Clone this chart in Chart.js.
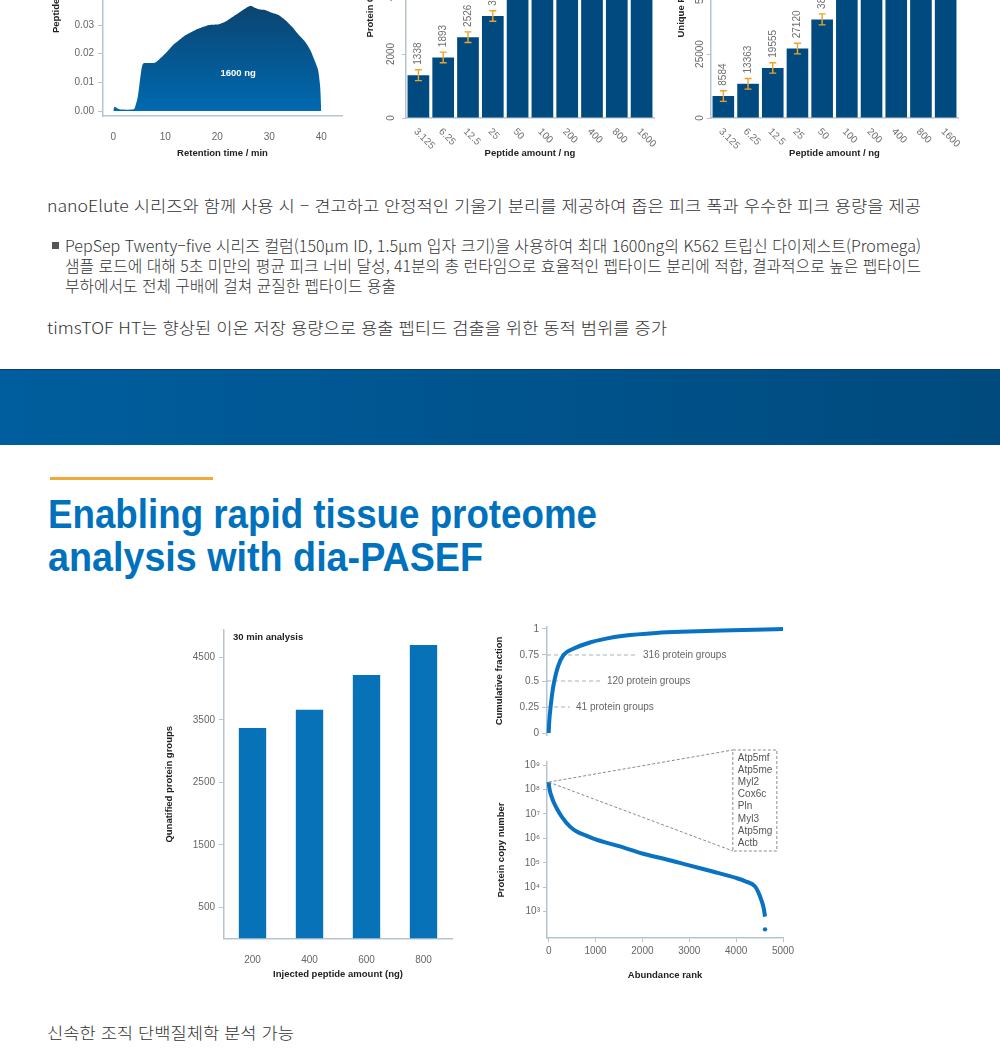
<!DOCTYPE html>
<html lang="ko">
<head>
<meta charset="utf-8">
<title>timsTOF HT</title>
<script src="https://cdn.jsdelivr.net/npm/chart.js@4.4.1/dist/chart.umd.min.js"></script>
<style>
  html, body { margin: 0; padding: 0; background: #fff; }
  body { position: relative; width: 1000px; height: 1048px; overflow: hidden;
         font-family: "Noto Sans CJK KR", sans-serif; color: #333; }
  canvas { position: absolute; }
  .line { position: absolute; white-space: nowrap; font-size: 16px; font-weight: 300; line-height: 20px; transform-origin: 0 50%; }
  .bullet { position: absolute; left: 52px; top: 242px; width: 7px; height: 7px; background: #555; }
  .band { position: absolute; left: 0; top: 369px; width: 1000px; height: 76px;
          background: linear-gradient(90deg, #005e9e, #004a7d); border-top: 1px solid #0b3f66; box-sizing: border-box; }
  .rule { position: absolute; left: 50px; top: 477px; width: 163px; height: 3px; background: #f2a93b; }
  .head { position: absolute; left: 48px; white-space: nowrap; font-family: "Liberation Sans", Arial, sans-serif;
          font-weight: bold; font-size: 40px; line-height: 40px; color: #0071bc; transform-origin: 0 50%; }
</style>
</head>
<body>

<canvas id="profile" width="305" height="195" style="left:40px;top:-30px"></canvas>
<canvas id="groups" width="305" height="205" style="left:355px;top:-40px"></canvas>
<canvas id="peptides" width="300" height="205" style="left:665px;top:-40px"></canvas>

<div class="line" style="left:47px;top:195px" data-w="874">nanoElute 시리즈와 함께 사용 시 – 견고하고 안정적인 기울기 분리를 제공하여 좁은 피크 폭과 우수한 피크 용량을 제공</div>
<div class="bullet"></div>
<div class="line" style="left:65px;top:235px" data-w="856">PepSep Twenty–five 시리즈 컬럼(150μm ID, 1.5μm 입자 크기)을 사용하여 최대 1600ng의 K562 트립신 다이제스트(Promega)</div>
<div class="line" style="left:65px;top:255px" data-w="856">샘플 로드에 대해 5초 미만의 평균 피크 너비 달성, 41분의 총 런타임으로 효율적인 펩타이드 분리에 적합, 결과적으로 높은 펩타이드</div>
<div class="line" style="left:65px;top:275px" data-w="331">부하에서도 전체 구배에 걸쳐 균질한 펩타이드 용출</div>
<div class="line" style="left:47px;top:317px" data-w="620">timsTOF HT는 향상된 이온 저장 용량으로 용출 펩티드 검출을 위한 동적 범위를 증가</div>

<div class="band"></div>
<div class="rule"></div>
<div class="head" style="top:494px" data-w="549">Enabling rapid tissue proteome</div>
<div class="head" style="top:537px" data-w="435">analysis with dia-PASEF</div>

<canvas id="quant" width="300" height="370" style="left:160px;top:620px"></canvas>
<canvas id="cumulative" width="320" height="122" style="left:490px;top:620px"></canvas>
<canvas id="copies" width="320" height="248" style="left:490px;top:742px"></canvas>

<div class="line" style="left:47px;top:1022px" data-w="247">신속한 조직 단백질체학 분석 가능</div>

<script>
// ---- data ----
// peptide elution profile, 1600 ng
const rtMin = [0, 0.3, 0.8, 1.5, 3.7, 4.1, 4.7, 5.3, 5.75, 7.9, 8.8, 10.1, 11.4, 12.5, 13.9, 15.8, 18.4, 20.3, 21.6,
  23.5, 25.4, 26.4, 27.0, 28.0, 29.3, 30.5, 31.8, 33.1, 34.4, 35.7, 36.9, 37.9, 38.7, 39.4, 39.8, 40.0];
const rtIntensity = [0.0008, 0.0015, 0.0009, 0.0005, 0.0005, 0.001, 0.005, 0.0133, 0.0166, 0.0168, 0.018, 0.0202,
  0.0229, 0.0245, 0.0265, 0.0283, 0.030, 0.0303, 0.0312, 0.0335, 0.0358, 0.0367, 0.0362, 0.0355, 0.0352, 0.0343,
  0.0335, 0.0317, 0.0294, 0.0265, 0.0242, 0.0213, 0.0178, 0.0143, 0.0085, 0.0003];
const rtTicks = [0, 10, 20, 30, 40];
const intensityTicks = [0, 0.01, 0.02, 0.03, 0.04];

// load series
const peptideAmounts = ['3.125', '6.25', '12.5', '25', '50', '100', '200', '400', '800', '1600'];
const proteinGroups = [1338, 1893, 2526, 3187, 3980, 4420, 4760, 5010, 5190, 5300];
const proteinGroupsErr = [170, 165, 165, 165, 170, 170, 170, 170, 170, 170];
const groupTicks = [0, 2000, 4000];
const uniquePeptides = [8584, 13363, 19555, 27120, 38518, 48900, 55300, 59800, 62400, 64100];
const uniquePeptidesErr = [2080, 2090, 2030, 2080, 2150, 2100, 2100, 2100, 2100, 2100];
const peptideTicks = [0, 25000, 50000];

// tissue, 30 min
const injectedAmounts = ['200', '400', '600', '800'];
const quantifiedGroups = [3368, 3661, 4216, 4696];
const quantTicks = [500, 1500, 2500, 3500, 4500];

const cumRank = [0, 8, 20, 41, 75, 120, 200, 316, 525, 880, 1200, 1600, 2300, 3000, 3700, 4400, 5000];
const cumFraction = [0, 0.08, 0.16, 0.25, 0.38, 0.5, 0.64, 0.75, 0.81, 0.87, 0.905, 0.935, 0.962, 0.975, 0.985, 0.993, 1.0];
const fractionTicks = [0, 0.25, 0.5, 0.75, 1];
const fractionMarks = [0.75, 0.5, 0.25];
const fractionLabels = ['316 protein groups', '120 protein groups', '41 protein groups'];

const copyRank = [0, 10, 30, 64, 100, 170, 277, 455, 597, 800, 1000, 1500, 2000, 2500, 3000, 3500, 4000, 4200,
  4400, 4467, 4538, 4588, 4616];
const copyNumber = [2.0e8, 1.3e8, 8e7, 5e7, 3.2e7, 1.7e7, 7.8e6, 3e6, 1.9e6, 1.3e6, 9e5, 4.8e5, 2.4e5, 1.4e5, 7.8e4,
  4.4e4, 2.4e4, 1.75e4, 1.1e4, 6.6e3, 3e3, 1.4e3, 630];
const lastRank = [4616];
const lastCopy = [190];
const copyExponents = [3, 4, 5, 6, 7, 8, 9];
const rankTicks = [0, 1000, 2000, 3000, 4000, 5000];
const topProteins = ['Atp5mf', 'Atp5me', 'Myl2', 'Cox6c', 'Pln', 'Myl3', 'Atp5mg', 'Actb'];

// ---- look ----
const FONT = '"Liberation Sans", Arial, sans-serif';
Chart.defaults.font.family = FONT;
Chart.defaults.font.size = 10;
Chart.defaults.color = '#666';
Chart.defaults.animation = false;
Chart.defaults.responsive = false;
Chart.defaults.plugins.legend.display = false;
Chart.defaults.plugins.tooltip.enabled = false;

const axisGrey = '#b6c4d0';
const navy = '#004a80';
const blue = '#0a72c2';
const titleFont = { size: 9.5, weight: 'bold' };
const border = { color: axisGrey, width: 1.5 };
const plain = v => String(v);

// fixed axis size, and no extra room for edge labels
function fixSize(w, h) {
  return s => {
    if (w != null) s.width = w;
    if (h != null) s.height = h;
    s.paddingTop = s.paddingBottom = s.paddingLeft = s.paddingRight = 0;
  };
}
function setTicks(vals) {
  return s => { s.ticks = vals.map(v => ({ value: v })); };
}
function axisTitle(text, pad) {
  return { display: true, text: text, font: titleFont, color: '#222', padding: pad };
}

// rotated y title drawn from a start point upward (top charts are cut off by the page)
function sideTitle(text, x, y) {
  return {
    id: 'sideTitle',
    afterDraw(chart) {
      const c = chart.ctx;
      c.save();
      c.translate(x, y);
      c.rotate(-Math.PI / 2);
      c.font = 'bold 9.5px ' + FONT;
      c.fillStyle = '#222';
      c.textAlign = 'left';
      c.textBaseline = 'middle';
      c.fillText(text, 0, 0);
      c.restore();
    }
  };
}

function barExtras(errs) {
  return {
    id: 'barExtras',
    afterDatasetsDraw(chart) {
      const c = chart.ctx, ys = chart.scales.y, area = chart.chartArea;
      const vals = chart.data.datasets[0].data;
      const labels = chart.data.labels;
      chart.getDatasetMeta(0).data.forEach((bar, i) => {
        const hi = ys.getPixelForValue(vals[i] + errs[i]);
        const lo = ys.getPixelForValue(vals[i] - errs[i]);
        c.save();
        c.strokeStyle = '#f2a324';
        c.lineWidth = 1.4;
        c.beginPath();
        c.moveTo(bar.x, hi); c.lineTo(bar.x, lo);
        c.moveTo(bar.x - 3.5, hi); c.lineTo(bar.x + 3.5, hi);
        c.moveTo(bar.x - 3.5, lo); c.lineTo(bar.x + 3.5, lo);
        c.stroke();
        c.font = '10px ' + FONT;
        c.fillStyle = '#6f6f6f';
        c.textAlign = 'left';
        c.textBaseline = 'middle';
        c.translate(bar.x, hi - 5);
        c.rotate(-Math.PI / 2);
        c.fillText(String(vals[i]), 0, 0);
        c.restore();

        c.save();
        c.font = '10px ' + FONT;
        c.fillStyle = '#6f6f6f';
        c.textAlign = 'left';
        c.textBaseline = 'middle';
        c.translate(bar.x - 3, area.bottom + 12);
        c.rotate(Math.PI / 4);
        c.fillText(labels[i], 0, 0);
        c.restore();
      });
    }
  };
}

// ---- elution profile ----
new Chart(document.getElementById('profile'), {
  type: 'line',
  data: {
    datasets: [{
      data: rtMin.map((t, i) => ({ x: t, y: rtIntensity[i] })),
      borderWidth: 0,
      pointRadius: 0,
      tension: 0.2,
      fill: 'origin',
      backgroundColor: ctx => {
        const ch = ctx.chart;
        if (!ch.chartArea) return navy;
        const y = ch.scales.y;
        const g = ch.ctx.createLinearGradient(0, y.getPixelForValue(0.037), 0, y.getPixelForValue(0));
        g.addColorStop(0, '#0b4470');
        g.addColorStop(1, '#0069b0');
        return g;
      }
    }]
  },
  options: {
    layout: { padding: { right: 3 } },
    scales: {
      x: {
        type: 'linear', min: -2, max: 44,
        afterBuildTicks: setTicks(rtTicks),
        grid: { display: false },
        border: border,
        ticks: { padding: 7, callback: plain },
        title: axisTitle('Retention time / min', { top: 0, bottom: 6 }),
        afterFit: fixSize(null, 49)
      },
      y: {
        min: -0.00174, max: 0.0492,
        afterBuildTicks: setTicks(intensityTicks),
        grid: { drawOnChartArea: false, tickLength: 5, color: axisGrey },
        border: border,
        ticks: { padding: 4, callback: v => v.toFixed(2) },
        afterFit: fixSize(63, null)
      }
    }
  },
  plugins: [
    sideTitle('Peptide intensity', 16.5, 63),
    {
      id: 'amountLabel',
      afterDatasetsDraw(chart) {
        const c = chart.ctx;
        c.save();
        c.font = 'bold 9.5px ' + FONT;
        c.fillStyle = '#fff';
        c.textAlign = 'center';
        c.textBaseline = 'middle';
        c.fillText('1600 ng', chart.scales.x.getPixelForValue(24), chart.scales.y.getPixelForValue(0.013));
        c.restore();
      }
    }
  ]
});

// ---- load bar charts ----
function loadChart(id, values, errs, ticks, max, yWidth, padRight, tickPad, title, titleX) {
  new Chart(document.getElementById(id), {
    type: 'bar',
    data: {
      labels: peptideAmounts,
      datasets: [{ data: values, backgroundColor: navy, barPercentage: 0.875, categoryPercentage: 1 }]
    },
    options: {
      layout: { padding: { right: padRight } },
      scales: {
        x: {
          grid: { display: false },
          border: border,
          ticks: { display: false },
          title: axisTitle('Peptide amount / ng', { top: 0, bottom: 6 }),
          afterFit: fixSize(null, 47)
        },
        y: {
          min: 0, max: max,
          afterBuildTicks: setTicks(ticks),
          grid: { drawOnChartArea: false, tickLength: 4, color: axisGrey },
          border: border,
          ticks: { minRotation: 90, maxRotation: 90, crossAlign: 'center', padding: tickPad, callback: plain },
          afterFit: fixSize(yWidth, null)
        }
      }
    },
    plugins: [barExtras(errs), sideTitle(title, titleX, 77.5)]
  });
}
loadChart('groups', proteinGroups, proteinGroupsErr, groupTicks, 4937.5, 51, 6, 0, 'Protein Groups', 15);
loadChart('peptides', uniquePeptides, uniquePeptidesErr, peptideTicks, 61719, 46, 7, -7, 'Unique Peptides', 16.5);

// ---- 30 min analysis ----
new Chart(document.getElementById('quant'), {
  type: 'bar',
  data: {
    labels: injectedAmounts,
    datasets: [{ data: quantifiedGroups, backgroundColor: '#0872b9', barPercentage: 0.48, categoryPercentage: 1 }]
  },
  options: {
    layout: { padding: { top: 10, right: 8 } },
    scales: {
      x: {
        grid: { display: false },
        border: border,
        ticks: { padding: 8 },
        title: axisTitle('Injected peptide amount (ng)', { top: 0, bottom: 10 }),
        afterFit: fixSize(null, 51.5)
      },
      y: {
        min: 0, max: 4936,
        afterBuildTicks: setTicks(quantTicks),
        grid: { drawOnChartArea: false, tickLength: 5, color: axisGrey },
        border: border,
        ticks: { padding: 4, callback: plain },
        title: axisTitle('Qunatified protein groups', { top: 4, bottom: 0 }),
        afterFit: fixSize(64, null)
      }
    }
  },
  plugins: [{
    id: 'caption',
    afterDraw(chart) {
      const c = chart.ctx, a = chart.chartArea;
      c.save();
      c.font = 'bold 9.5px ' + FONT;
      c.fillStyle = '#222';
      c.textBaseline = 'middle';
      c.fillText('30 min analysis', a.left + 9, a.top + 7);
      c.restore();
    }
  }]
});

// ---- cumulative fraction ----
new Chart(document.getElementById('cumulative'), {
  type: 'line',
  data: {
    datasets: [{
      data: cumRank.map((r, i) => ({ x: r, y: cumFraction[i] })),
      borderColor: blue, borderWidth: 4, pointRadius: 0,
      cubicInterpolationMode: 'monotone', clip: false
    }]
  },
  options: {
    layout: { padding: { top: 7, bottom: 7, right: 27 } },
    scales: {
      x: { type: 'linear', min: -36, max: 5000, display: false },
      y: {
        min: -0.0192, max: 1.0192,
        afterBuildTicks: setTicks(fractionTicks),
        grid: { drawOnChartArea: false, tickLength: 5, color: axisGrey },
        border: border,
        ticks: { padding: 3, callback: plain },
        title: axisTitle('Cumulative fraction', { top: 4, bottom: 0 }),
        afterFit: fixSize(57, null)
      }
    }
  },
  plugins: [{
    id: 'fractionMarks',
    beforeDatasetsDraw(chart) {
      const c = chart.ctx, xs = chart.scales.x, ys = chart.scales.y, a = chart.chartArea;
      const ends = [1885, 1115, 455];
      c.save();
      c.font = '10px ' + FONT;
      c.textBaseline = 'middle';
      fractionMarks.forEach((f, i) => {
        const py = ys.getPixelForValue(f), px = xs.getPixelForValue(ends[i]);
        c.strokeStyle = '#a3b3c1';
        c.lineWidth = 1;
        c.setLineDash([4, 3]);
        c.beginPath();
        c.moveTo(a.left, py); c.lineTo(px, py);
        c.stroke();
        c.fillStyle = '#666';
        c.fillText(fractionLabels[i], px + 6, py);
      });
      c.restore();
    }
  }]
});

// ---- copy number vs abundance rank ----
const sup = { 3: '³', 4: '⁴', 5: '⁵', 6: '⁶', 7: '⁷', 8: '⁸', 9: '⁹' };
new Chart(document.getElementById('copies'), {
  type: 'line',
  data: {
    datasets: [
      {
        data: copyRank.map((r, i) => ({ x: r, y: copyNumber[i] })),
        borderColor: blue, borderWidth: 4, pointRadius: 0,
        cubicInterpolationMode: 'monotone', clip: false
      },
      {
        data: lastRank.map((r, i) => ({ x: r, y: lastCopy[i] })),
        showLine: false, pointRadius: 2.2, pointBorderWidth: 0, pointBackgroundColor: blue
      }
    ]
  },
  options: {
    layout: { padding: { top: 20, right: 27 } },
    scales: {
      x: {
        type: 'linear', min: -36, max: 5000,
        afterBuildTicks: setTicks(rankTicks),
        grid: { drawOnChartArea: false, tickLength: 4, color: axisGrey },
        border: border,
        ticks: { padding: 3, callback: plain },
        title: axisTitle('Abundance rank', { top: 0, bottom: 9 }),
        afterFit: fixSize(null, 52)
      },
      y: {
        type: 'logarithmic', min: 84, max: 1.327e9,
        afterBuildTicks: setTicks(copyExponents.map(e => Math.pow(10, e))),
        grid: { drawOnChartArea: false, tickLength: 4, color: axisGrey },
        border: border,
        ticks: { padding: 3, callback: v => '10' + sup[Math.round(Math.log10(v))] },
        title: axisTitle('Protein copy number', { top: 6, bottom: 0 }),
        afterFit: fixSize(57, null)
      }
    }
  },
  plugins: [{
    id: 'topList',
    afterDraw(chart) {
      const c = chart.ctx, xs = chart.scales.x, ys = chart.scales.y, a = chart.chartArea;
      const sx = xs.getPixelForValue(copyRank[0]), sy = ys.getPixelForValue(copyNumber[0]);
      const left = xs.getPixelForValue(3930), right = left + 44;
      const top = a.top - 12, bottom = top + 101;
      c.save();
      c.strokeStyle = '#7d8d9a';
      c.lineWidth = 1;
      c.setLineDash([3, 2]);
      c.beginPath();
      c.moveTo(sx, sy); c.lineTo(left, top);
      c.moveTo(sx, sy); c.lineTo(left, bottom);
      c.rect(left, top, right - left, bottom - top);
      c.stroke();
      c.setLineDash([]);
      c.font = '10px ' + FONT;
      c.fillStyle = '#555';
      c.textBaseline = 'middle';
      topProteins.forEach((p, i) => c.fillText(p, left + 5, top + 8 + i * 12.15));
      c.restore();
    }
  }]
});

// fit text lines to the widths of the original layout
document.querySelectorAll('[data-w]').forEach(el => {
  const w = el.getBoundingClientRect().width;
  el.style.transform = 'scaleX(' + (parseFloat(el.dataset.w) / w).toFixed(4) + ')';
});
</script>
</body>
</html>
